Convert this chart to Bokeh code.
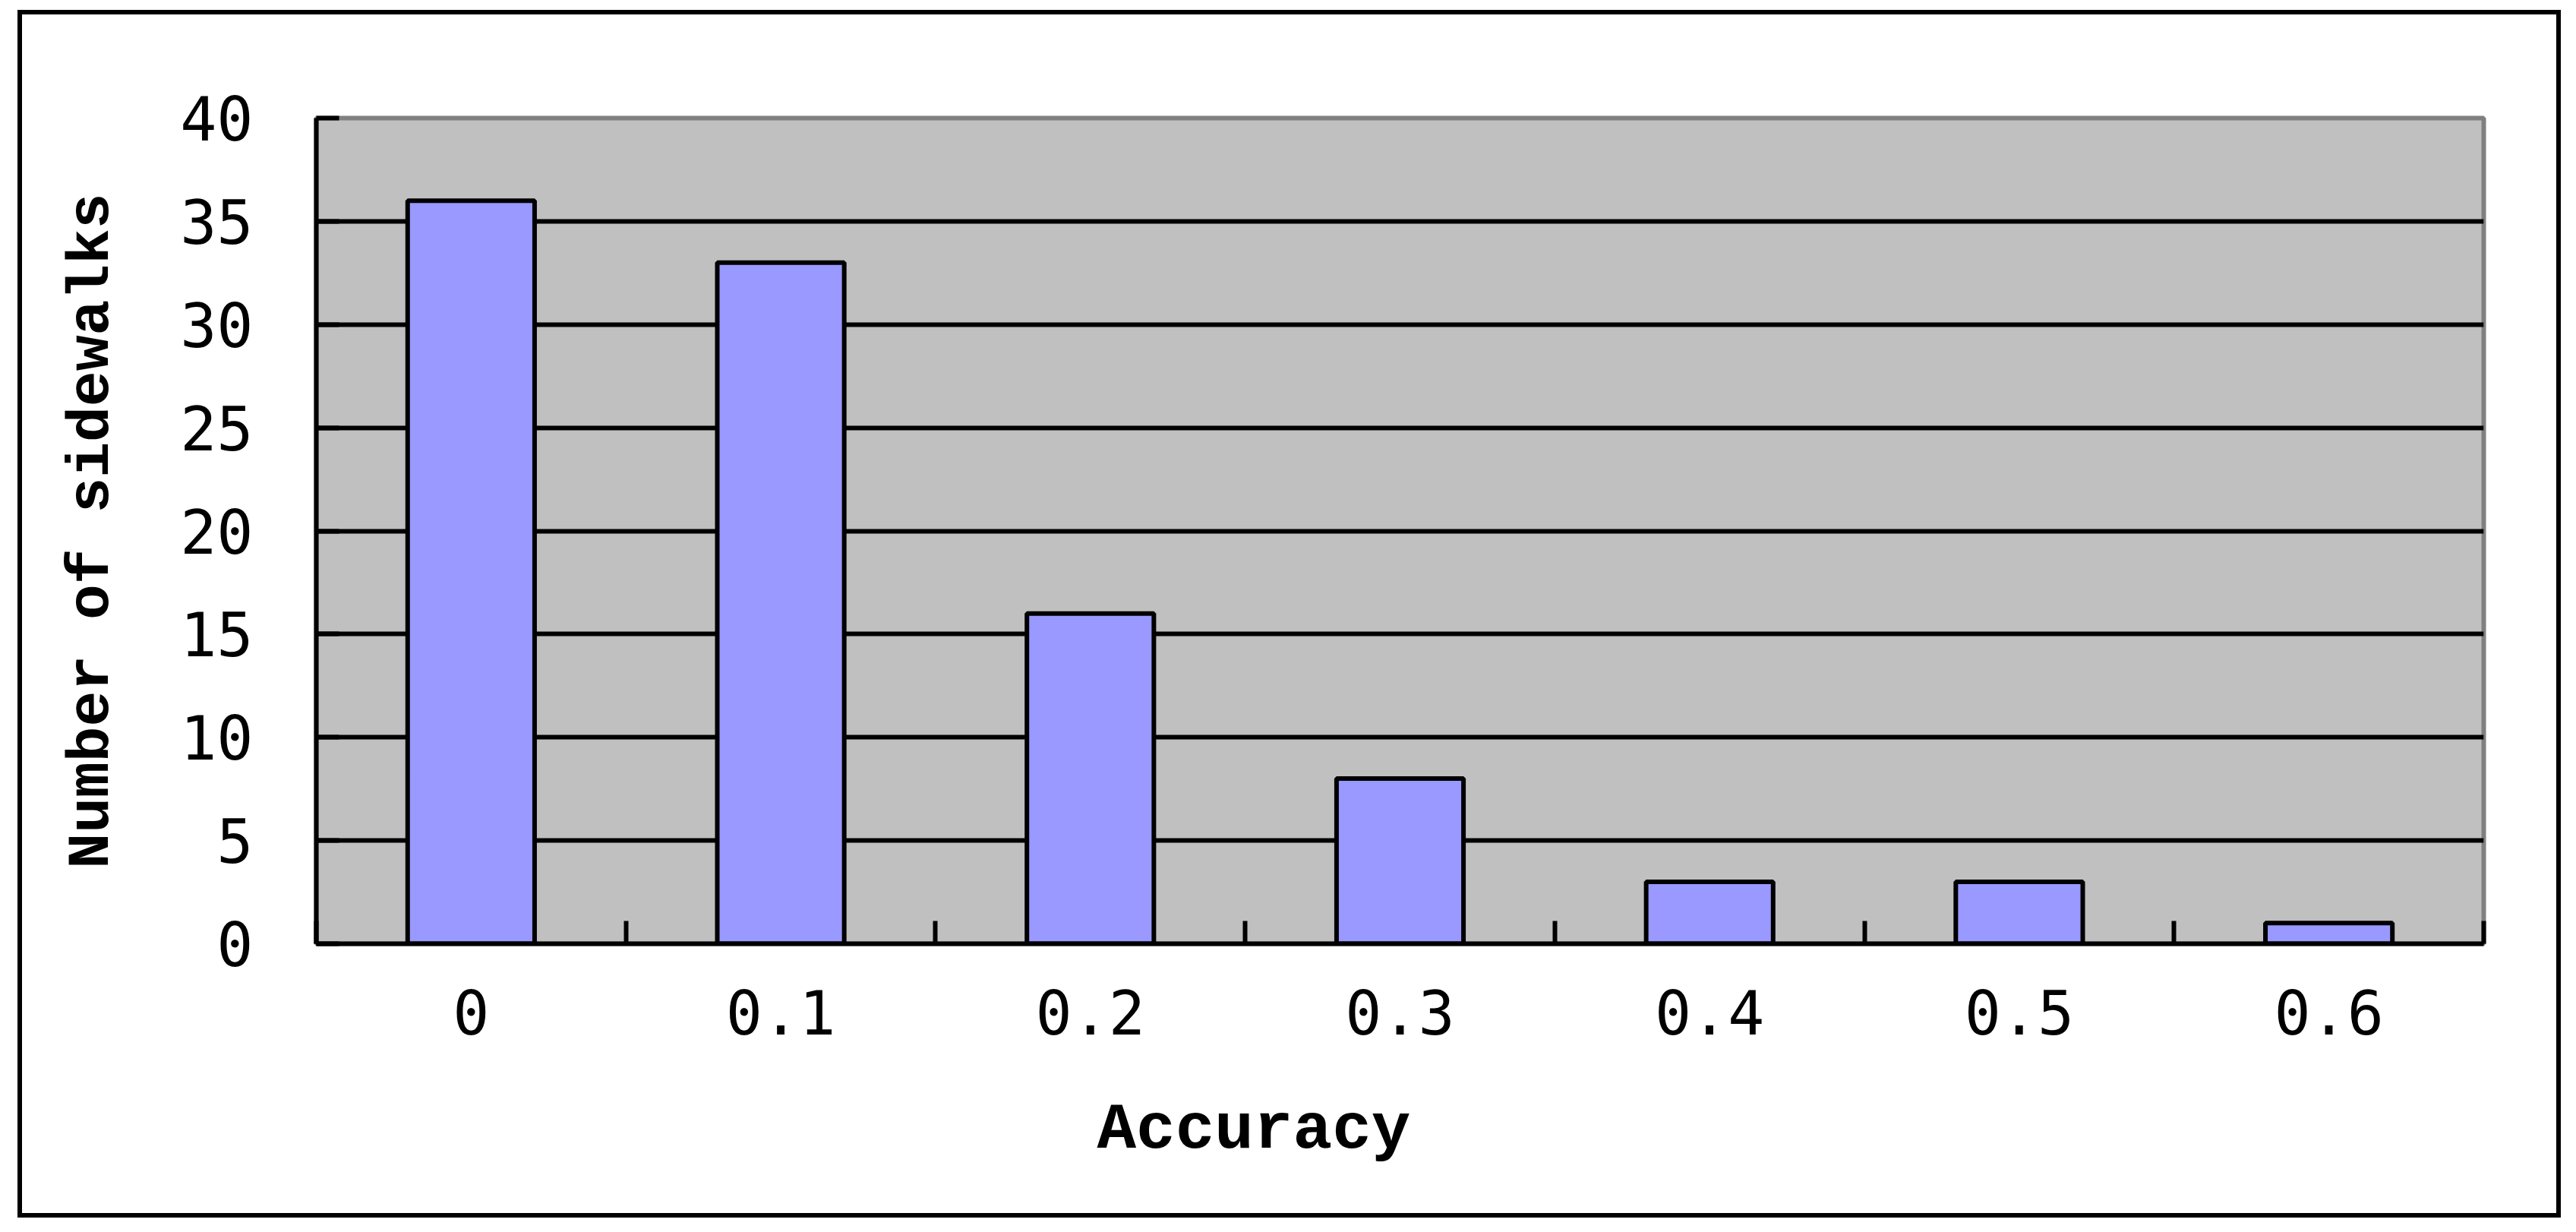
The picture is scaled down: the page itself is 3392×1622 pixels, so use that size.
from bokeh.plotting import figure
from bokeh.models import FixedTicker, Range1d, Title
from bokeh.embed import file_html
from bokeh.resources import INLINE

categories = ["0", "0.1", "0.2", "0.3", "0.4", "0.5", "0.6"]
counts = [36, 33, 16, 8, 3, 3, 1]
y_ticks = [0, 5, 10, 15, 20, 25, 30, 35, 40]

x_pos = [i + 0.5 for i in range(len(categories))]
boundaries = list(range(len(categories) + 1))

W, H = 3349, 1590
p = figure(width=W, height=H, output_backend="svg", toolbar_location=None,
           x_range=Range1d(0, len(categories)), y_range=Range1d(0, 40),
           min_border_left=387, min_border_right=108,
           min_border_top=136, min_border_bottom=365)
p.styles = {"border": "6px solid black", "margin-left": "23px", "margin-top": "13px"}

p.background_fill_color = "#C0C0C0"
p.border_fill_color = "white"
p.outline_line_color = "#808080"
p.outline_line_width = 6

p.xgrid.visible = False
p.ygrid.ticker = FixedTicker(ticks=y_ticks[1:-1])
p.ygrid.grid_line_color = "black"
p.ygrid.grid_line_width = 6

p.vbar(x=x_pos, top=counts, bottom=0, width=0.41,
       fill_color="#9999FF", line_color="black", line_width=6)

# Y axis
ya = p.yaxis[0]
ya.ticker = FixedTicker(ticks=y_ticks)
ya.axis_line_color = "black"
ya.axis_line_width = 6
ya.major_tick_in = 30
ya.major_tick_out = 0
ya.major_tick_line_width = 6
ya.major_tick_line_color = "black"
ya.minor_tick_line_color = None
ya.major_label_text_font = "DejaVu Sans Mono"
ya.major_label_text_font_size = "80px"
ya.major_label_text_color = "black"
ya.major_label_standoff = 83
ya.axis_label = "Number of sidewalks"
ya.axis_label_text_font = "Liberation Mono"
ya.axis_label_text_font_style = "bold"
ya.axis_label_text_font_size = "78px"
ya.axis_label_text_color = "black"
ya.axis_label_standoff = 69

# X axis
xa = p.xaxis[0]
xa.ticker = FixedTicker(ticks=x_pos, minor_ticks=boundaries)
xa.major_label_overrides = {x: c for x, c in zip(x_pos, categories)}
xa.axis_line_color = "black"
xa.axis_line_width = 6
xa.major_tick_line_color = None
xa.major_tick_in = 0
xa.major_tick_out = 0
xa.minor_tick_in = 30
xa.minor_tick_out = 0
xa.minor_tick_line_width = 6
xa.minor_tick_line_color = "black"
xa.major_label_text_font = "DejaVu Sans Mono"
xa.major_label_text_font_size = "80px"
xa.major_label_text_color = "black"
xa.major_label_standoff = 60

p.add_layout(Title(text="Accuracy", align="left", offset=1028, standoff=145,
                   text_font="Liberation Mono", text_font_style="bold",
                   text_font_size="86px", text_color="black"), "below")

open("out.html", "w").write(file_html(p, INLINE))
